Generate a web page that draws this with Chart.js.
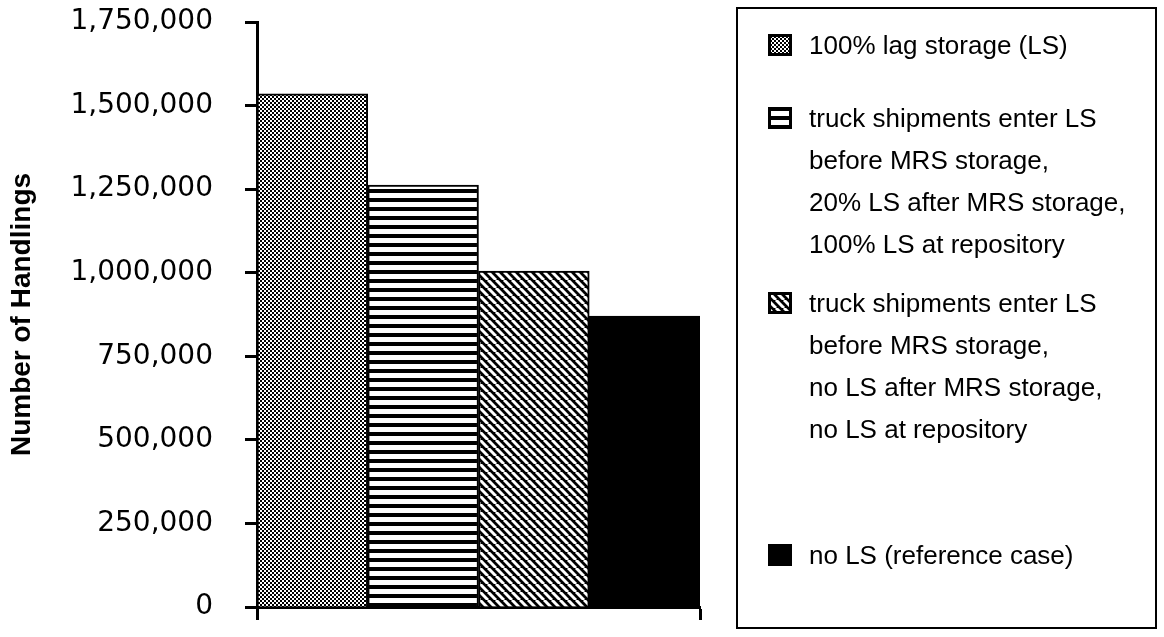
<!DOCTYPE html>
<html>
<head>
<meta charset="utf-8">
<script src="https://cdn.jsdelivr.net/npm/chart.js@4.4.0/dist/chart.umd.min.js"></script>
<style>
	body { margin: 0; background: #fff; }
	#wrap { position: relative; width: 1164px; height: 637px; }
	#legend {
		position: absolute; left: 736px; top: 7px; width: 417px; height: 618px;
		border: 2px solid #000;
		font-family: 'Liberation Sans', Arial, sans-serif; font-size: 26px; color: #000;
	}
	.item { position: absolute; left: 0; }
	.item canvas { position: absolute; left: 30px; top: 10px; }
	.item .txt { position: absolute; left: 71px; top: 0; line-height: 42px; white-space: nowrap; }
</style>
</head>
<body>
<div id="wrap">
	<canvas id="handlings" width="1164" height="637"></canvas>
	<div id="legend"></div>
</div>
<script>
const seriesLabels = [
	['100% lag storage (LS)'],
	['truck shipments enter LS', 'before MRS storage,', '20% LS after MRS storage,', '100% LS at repository'],
	['truck shipments enter LS', 'before MRS storage,', 'no LS after MRS storage,', 'no LS at repository'],
	['no LS (reference case)'],
];
const handlings = [1535000, 1262000, 1005000, 870000];
const yTicks = [0, 250000, 500000, 750000, 1000000, 1250000, 1500000, 1750000];
const legendTops = [15, 88, 273, 525];

// fill patterns, one per case
function makePattern(kind) {
	const tile = document.createElement('canvas');
	const t = tile.getContext('2d');
	if (kind === 'dots') {
		tile.width = 4; tile.height = 4;
		t.fillStyle = '#fff'; t.fillRect(0, 0, 4, 4);
		t.fillStyle = '#000'; t.fillRect(0, 0, 2, 2); t.fillRect(2, 2, 2, 2);
	} else if (kind === 'hstripes') {
		tile.width = 9; tile.height = 9;
		t.fillStyle = '#fff'; t.fillRect(0, 0, 9, 9);
		t.fillStyle = '#000'; t.fillRect(0, 0, 9, 4);
	} else if (kind === 'diag') {
		tile.width = 8; tile.height = 8;
		t.fillStyle = '#000'; t.fillRect(0, 0, 8, 8);
		t.strokeStyle = '#fff'; t.lineWidth = 3;
		[-8, 0, 8].forEach(o => {
			t.beginPath(); t.moveTo(o, 0); t.lineTo(o + 8, 8); t.stroke();
		});
	} else {
		tile.width = 2; tile.height = 2;
		t.fillStyle = '#000'; t.fillRect(0, 0, 2, 2);
	}
	return t.createPattern(tile, 'repeat');
}
const fills = ['dots', 'hstripes', 'diag', 'solid'].map(makePattern);

// html legend with multi-line labels
const legend = document.getElementById('legend');
seriesLabels.forEach((lines, i) => {
	const item = document.createElement('div');
	item.className = 'item';
	item.style.top = legendTops[i] + 'px';
	const sw = document.createElement('canvas');
	sw.width = 24; sw.height = 22;
	const sctx = sw.getContext('2d');
	sctx.fillStyle = fills[i]; sctx.fillRect(0, 0, 24, 22);
	sctx.strokeStyle = '#000'; sctx.lineWidth = 3; sctx.strokeRect(1.5, 1.5, 21, 19);
	item.appendChild(sw);
	const txt = document.createElement('div');
	txt.className = 'txt';
	txt.innerHTML = lines.join('<br>');
	item.appendChild(txt);
	legend.appendChild(item);
});

const ctx = document.getElementById('handlings').getContext('2d');
new Chart(ctx, {
	type: 'bar',
	data: {
		labels: seriesLabels.map(l => l.join(' ')),
		datasets: [{
			data: handlings,
			backgroundColor: fills,
			borderColor: '#000',
			borderWidth: 2,
			barPercentage: 1,
			categoryPercentage: 1,
		}],
	},
	options: {
		responsive: false,
		animation: false,
		layout: { padding: { top: 22, right: 464, bottom: 0, left: 0 } },
		plugins: { legend: { display: false }, tooltip: { enabled: false } },
		scales: {
			x: {
				ticks: { display: false },
				border: { color: '#000', width: 3 },
				grid: {
					drawOnChartArea: false,
					tickLength: 13,
					tickWidth: 3,
					color: c => (c.type === 'scale' || c.index === 0) ? '#000' : 'rgba(0,0,0,0)',
					tickColor: c => (c.type === 'scale' || c.index === 0) ? '#000' : 'rgba(0,0,0,0)',
				},
				afterFit: s => { s.height = 30; },
			},
			y: {
				min: 0,
				max: 1750000,
				afterBuildTicks: s => { s.ticks = yTicks.map(v => ({ value: v })); },
				ticks: {
					padding: 32,
					color: '#000',
					font: { family: 'DejaVu Sans', size: 28 },
					callback: v => v.toLocaleString('en-US'),
				},
				border: { color: '#000', width: 3 },
				grid: { drawOnChartArea: false, tickLength: 12, tickWidth: 3, color: '#000', tickColor: '#000' },
				title: {
					display: true,
					text: 'Number of Handlings',
					color: '#000',
					padding: { top: 5, bottom: 0 },
					font: { family: 'Liberation Sans', size: 28, weight: 'bold' },
				},
				afterFit: s => { s.width = 257; s.paddingTop = 0; s.paddingBottom = 0; },
			},
		},
	},
});
</script>
</body>
</html>
